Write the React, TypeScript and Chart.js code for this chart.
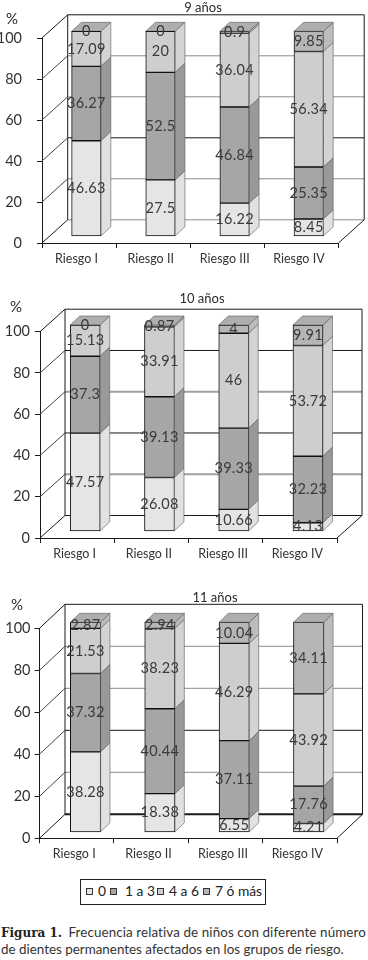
import React, { useEffect, useRef } from "react";
import { Chart, registerables } from "chart.js";

Chart.register(...registerables);

const categories = ["Riesgo I", "Riesgo II", "Riesgo III", "Riesgo IV"];
const seriesNames = ["0", "1 a 3", "4 a 6", "7 ó más"];
const yTicks = [0, 20, 40, 60, 80, 100];

const titles = ["9 años", "10 años", "11 años"];

const age9Zero = [46.63, 27.5, 16.22, 8.45];
const age9OneToThree = [36.27, 52.5, 46.84, 25.35];
const age9FourToSix = [17.09, 20, 36.04, 56.34];
const age9SevenPlus = [0, 0, 0.9, 9.85];

const age10Zero = [47.57, 26.08, 10.66, 4.13];
const age10OneToThree = [37.3, 39.13, 39.33, 32.23];
const age10FourToSix = [15.13, 33.91, 46, 53.72];
const age10SevenPlus = [0, 0.87, 4, 9.91];

const age11Zero = [38.28, 18.38, 6.55, 4.21];
const age11OneToThree = [37.32, 40.44, 37.11, 17.76];
const age11FourToSix = [21.53, 38.23, 46.29, 43.92];
const age11SevenPlus = [2.87, 2.94, 10.04, 34.11];

const FONT = "Lato";
const frontColors = ["#e4e5e6", "#a6a6a7", "#cdcecf", "#b5b6b7"];
const sideColors = ["#e0e1e2", "#98999a", "#d2d3d4", "#bbbcbd"];
const topColor = "#adaeae";

const GRAY = "#8c8c8c";
const BLACK = "#1a1a1a";

const charts = [
  {
    values: [age9Zero, age9OneToThree, age9FourToSix, age9SevenPlus],
    canvasTop: 0, canvasH: 285,
    left: 42, right: 338.5, top: 38, bottom: 243,
    wallDx: 25.7, wallDy: 23.2, barDx: 7.3, barDy: 6.7, depthX: 9.7, depthY: 9,
    barW: 29.5, tickPad: 15,
    grid: [[GRAY, 1], [GRAY, 1], [BLACK, 1], [GRAY, 1], [GRAY, 1]],
    titleX: 203, titleY: 8, pctX: 12, pctY: 19,
  },
  {
    values: [age10Zero, age10OneToThree, age10FourToSix, age10SevenPlus],
    canvasTop: 285, canvasH: 297,
    left: 40, right: 337, top: 331.7, bottom: 538,
    wallDx: 25, wallDy: 22.5, barDx: 8.1, barDy: 6.7, depthX: 9.5, depthY: 9,
    barW: 30, tickPad: 5,
    grid: [[BLACK, 1], ["#a0a0a0", 2], [BLACK, 1], ["#a0a0a0", 2], [BLACK, 1]],
    titleX: 202, titleY: 299, pctX: 16, pctY: 307,
  },
  {
    values: [age11Zero, age11OneToThree, age11FourToSix, age11SevenPlus],
    canvasTop: 582, canvasH: 288,
    left: 39.5, right: 337, top: 628.3, bottom: 838.3,
    wallDx: 25.5, wallDy: 24, barDx: 8.8, barDy: 6, depthX: 9.3, depthY: 9,
    barW: 30.3, tickPad: 4,
    grid: [[BLACK, 2], [GRAY, 1], [BLACK, 1], [GRAY, 1], [GRAY, 1]],
    titleX: 215, titleY: 598, pctX: 17, pctY: 605,
  },
];

function fmt(v: number) {
  return String(v);
}

function makePlugin(cfg: any, title: string) {
  const top0 = cfg.canvasTop;
  return {
    id: "bars3d",
    beforeDatasetsDraw(chart: any) {
      const { ctx, scales } = chart;
      const y = scales.y;
      const { left, right } = chart.chartArea;
      const dx = cfg.wallDx;
      const dy = cfg.wallDy;
      const yTop = y.getPixelForValue(100);
      const yBase = y.getPixelForValue(0);
      ctx.save();
      // horizontal lines on the back wall and floor
      yTicks.slice(0, 5).forEach((t, i) => {
        const py = y.getPixelForValue(t) - dy;
        ctx.strokeStyle = cfg.grid[i][0];
        ctx.lineWidth = cfg.grid[i][1];
        ctx.beginPath();
        ctx.moveTo(left + dx, py);
        ctx.lineTo(right + dx, py);
        ctx.stroke();
      });
      ctx.strokeStyle = BLACK;
      ctx.lineWidth = 1;
      // back wall frame
      ctx.beginPath();
      ctx.moveTo(left + dx, yBase - dy);
      ctx.lineTo(left + dx, yTop - dy);
      ctx.lineTo(right + dx, yTop - dy);
      ctx.lineTo(right + dx, yBase - dy);
      ctx.stroke();
      // floor right edge
      ctx.beginPath();
      ctx.moveTo(right, yBase);
      ctx.lineTo(right + dx, yBase - dy);
      ctx.stroke();
      // diagonals on the side wall
      yTicks.forEach((t) => {
        const py = y.getPixelForValue(t);
        ctx.strokeStyle = t === 0 || t === 100 ? BLACK : "#444";
        ctx.beginPath();
        ctx.moveTo(left, py);
        ctx.lineTo(left + dx, py - dy);
        ctx.stroke();
      });
      ctx.restore();
    },
    beforeDatasetDraw(chart: any) {
      const { ctx } = chart;
      ctx.save();
      ctx.translate(cfg.barDx, -cfg.barDy);
    },
    afterDatasetDraw(chart: any, args: any) {
      const { ctx } = chart;
      const i = args.index;
      const last = chart.data.datasets.length - 1;
      args.meta.data.forEach((bar: any) => {
        const p = bar.getProps(["x", "y", "base", "width"], true);
        const xr = p.x + p.width / 2;
        const xl = p.x - p.width / 2;
        const dX = cfg.depthX;
        const dY = cfg.depthY;
        ctx.lineWidth = 0.6;
        ctx.strokeStyle = "#5a5a5a";
        if (p.base - p.y > 0.01) {
          ctx.fillStyle = sideColors[i];
          ctx.beginPath();
          ctx.moveTo(xr, p.base);
          ctx.lineTo(xr + dX, p.base - dY);
          ctx.lineTo(xr + dX, p.y - dY);
          ctx.lineTo(xr, p.y);
          ctx.closePath();
          ctx.fill();
          ctx.stroke();
        }
        if (i === last) {
          ctx.fillStyle = topColor;
          ctx.beginPath();
          ctx.moveTo(xl, p.y);
          ctx.lineTo(xl + dX, p.y - dY);
          ctx.lineTo(xr + dX, p.y - dY);
          ctx.lineTo(xr, p.y);
          ctx.closePath();
          ctx.fill();
          ctx.stroke();
        }
      });
      ctx.restore();
    },
    afterDatasetsDraw(chart: any) {
      const { ctx } = chart;
      ctx.save();
      ctx.textAlign = "center";
      ctx.textBaseline = "middle";
      ctx.fillStyle = "#3a3a3a";
      ctx.font = `14.5px ${FONT}`;
      (ctx as any).letterSpacing = "0.3px";
      chart.data.datasets.forEach((ds: any, i: number) => {
        const meta = chart.getDatasetMeta(i);
        meta.data.forEach((bar: any, j: number) => {
          const p = bar.getProps(["x", "y", "base"], true);
          ctx.fillText(
            fmt(ds.data[j]),
            p.x + cfg.barDx,
            (p.y + p.base) / 2 - cfg.barDy,
          );
        });
      });
      (ctx as any).letterSpacing = "0px";
      ctx.fillStyle = "#2a2a2a";
      ctx.font = `13px ${FONT}`;
      ctx.fillText(title, cfg.titleX, cfg.titleY - top0);
      ctx.font = `15px ${FONT}`;
      ctx.fillText("%", cfg.pctX, cfg.pctY - top0);
      ctx.restore();
    },
  };
}

function Panel({ cfg, title }: { cfg: any; title: string }) {
  const ref = useRef<HTMLCanvasElement>(null);
  useEffect(() => {
    const chart = new Chart(ref.current as HTMLCanvasElement, {
      type: "bar",
      data: {
        labels: categories,
        datasets: seriesNames.map((name, i) => ({
          label: name,
          data: cfg.values[i],
          backgroundColor: frontColors[i],
          borderColor: "#111",
          borderWidth: 1,
          borderSkipped: false,
          barThickness: cfg.barW,
          clip: false,
        })),
      },
      options: {
        animation: false,
        responsive: false,
        maintainAspectRatio: false,
        layout: {
          autoPadding: false,
          padding: { top: cfg.top - cfg.canvasTop, right: 368 - cfg.right, left: 0, bottom: 0 },
        },
        plugins: { legend: { display: false }, title: { display: false }, tooltip: { enabled: false } },
        scales: {
          x: {
            stacked: true,
            afterFit: (s: any) => { s.height = cfg.canvasH - (cfg.bottom - cfg.canvasTop); },
            grid: { drawOnChartArea: false, drawTicks: true, tickLength: 5, color: BLACK, offset: true },
            border: { display: true, color: BLACK, width: 1 },
            ticks: { color: "#333", font: { family: FONT, size: 12.5 }, padding: 3, labelOffset: -2.5, maxRotation: 0, autoSkip: false },
          },
          y: {
            stacked: true,
            min: 0,
            max: 100,
            afterFit: (s: any) => { s.width = cfg.left; },
            grid: { drawOnChartArea: false, drawTicks: true, tickLength: 5, color: BLACK },
            border: { display: true, color: BLACK, width: 1 },
            ticks: { stepSize: 20, color: "#333", font: { family: FONT, size: 14.5 }, padding: cfg.tickPad },
          },
        },
      },
      plugins: [makePlugin(cfg, title)],
    } as any);
    return () => chart.destroy();
  }, []);
  return (
    <canvas
      ref={ref}
      width={368}
      height={cfg.canvasH}
      style={{ position: "absolute", left: 0, top: cfg.canvasTop, width: 368, height: cfg.canvasH }}
    />
  );
}

const legendSquares = [86, 110, 157, 203];
const legendTexts = [98, 125, 169, 215];

export default function App() {
  return (
    <div style={{ position: "absolute", left: 0, top: 0, width: 368, height: 960, background: "#fff", overflow: "hidden", fontFamily: FONT, color: "#222" }}>
      {charts.map((c, i) => (
        <Panel key={i} cfg={c} title={titles[i]} />
      ))}
      <div style={{ position: "absolute", left: 80, top: 879, width: 184, height: 24, border: "1px solid #222" }} />
      {seriesNames.map((n, i) => (
        <React.Fragment key={n}>
          <div style={{ position: "absolute", left: legendSquares[i], top: 888, width: 5, height: 5, background: frontColors[i], border: "1px solid #333" }} />
          <div style={{ position: "absolute", left: legendTexts[i], top: 882, fontSize: 13.8, lineHeight: "18px", whiteSpace: "nowrap" }}>{n}</div>
        </React.Fragment>
      ))}
      <div style={{ position: "absolute", left: 1, top: 924, width: 367, fontSize: 13.4, lineHeight: "16px", whiteSpace: "nowrap", color: "#333" }}>
        <span style={{ fontFamily: "DejaVu Serif", fontWeight: "bold", fontSize: 12, color: "#222", marginRight: 3 }}>Figura 1.</span> <span style={{ letterSpacing: 0.1 }}>Frecuencia relativa de niños con diferente número</span>
        <br />
        de dientes permanentes afectados en los grupos de riesgo.
      </div>
    </div>
  );
}
